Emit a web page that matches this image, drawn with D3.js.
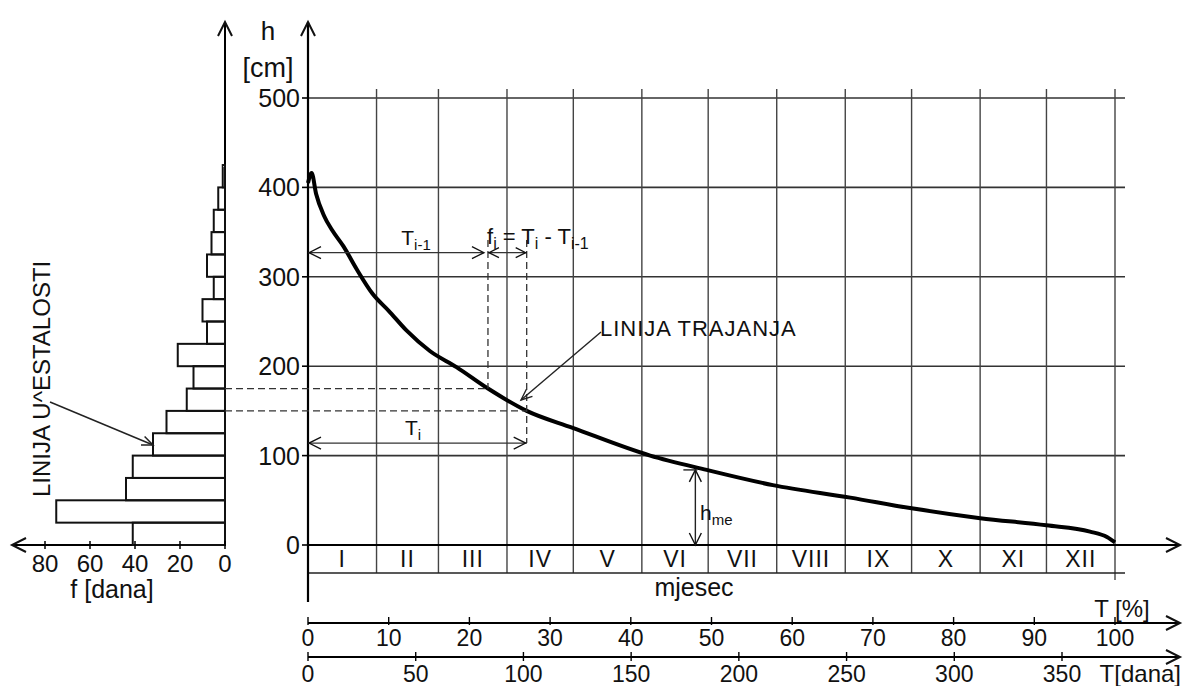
<!DOCTYPE html>
<html><head><meta charset="utf-8">
<script src="https://cdn.jsdelivr.net/npm/d3@7"></script>
<style>
body{margin:0;background:#fff}
svg{display:block}
text{font-family:"Liberation Sans",Arial,Helvetica,sans-serif;fill:#111}
</style>
</head><body>
<svg id="c" width="1185" height="686"></svg>
<script>
// ---- data ----
const durationT = [0, 0.45, 1.0, 2.0, 3.0, 4.4, 6.0, 8.0, 10.0, 12.2, 15.1, 18.4, 22.3, 27.1, 32.8, 42.4, 49.4, 57.6, 67.2, 74.8, 83.3, 91.5, 96.9, 99.0, 100];
const durationH = [405, 416, 393, 368, 352, 334, 309, 281, 262, 240, 217, 199, 175, 150, 131, 100, 84, 67, 53, 41, 30, 22, 15, 9, 3];
const histLow = [0, 25, 50, 75, 100, 125, 150, 175, 200, 225, 250, 275, 300, 325, 350, 375, 400];
const histF   = [41, 75, 44, 41, 32, 26, 17, 14, 21, 8, 10, 5, 8, 6, 5, 3, 1];
const histWidth = 25;
const hTicks = [0, 100, 200, 300, 400, 500];
const fTicks = [0, 20, 40, 60, 80];
const pctTicks = [0, 10, 20, 30, 40, 50, 60, 70, 80, 90, 100];
const dayTicks = [0, 50, 100, 150, 200, 250, 300, 350];
const months = ["I", "II", "III", "IV", "V", "VI", "VII", "VIII", "IX", "X", "XI", "XII"];
const monthDays = [31, 28, 31, 30, 31, 30, 31, 31, 30, 31, 30, 31];
// annotation values (chart units)
const tPrev = 22.3, tCur = 27.1, hPrev = 175, hCur = 150;
const hArrowPrev = 327, hArrowCur = 114;
const tMedian = 48, hMedian = 84;

// ---- scales ----
const x = d3.scaleLinear().domain([0, 100]).range([308, 1115]);
const y = d3.scaleLinear().domain([0, 500]).range([545, 98]);
const f = d3.scaleLinear().domain([0, 80]).range([225, 45]);
const xd = d3.scaleLinear().domain([0, 350]).range([308, 1062]);

const svg = d3.select("#c");
const g = svg.append("g");

function line(x1, y1, x2, y2, w, col, dash) {
  const l = g.append("line").attr("x1", x1).attr("y1", y1).attr("x2", x2).attr("y2", y2)
    .attr("stroke", col || "#111").attr("stroke-width", w || 1.5);
  if (dash) l.attr("stroke-dasharray", dash);
  return l;
}
function head(px, py, dir, s, w) {
  s = s || 9; const h = s * 0.5;
  let p;
  if (dir === 'r') p = [[px - s, py - h], [px, py], [px - s, py + h]];
  if (dir === 'l') p = [[px + s, py - h], [px, py], [px + s, py + h]];
  if (dir === 'u') p = [[px - h, py + s], [px, py], [px + h, py + s]];
  if (dir === 'd') p = [[px - h, py - s], [px, py], [px + h, py - s]];
  g.append("path").attr("d", d3.line()(p)).attr("fill", "none").attr("stroke", "#111").attr("stroke-width", w || 1.5);
}
function slantHead(x1, y1, x2, y2, col, w) {
  const ang = Math.atan2(y2 - y1, x2 - x1), s = 12, a = 0.4;
  const p = [[x2 - s * Math.cos(ang - a), y2 - s * Math.sin(ang - a)], [x2, y2], [x2 - s * Math.cos(ang + a), y2 - s * Math.sin(ang + a)]];
  g.append("path").attr("d", d3.line()(p)).attr("fill", "none").attr("stroke", col).attr("stroke-width", w);
}
function txt(s, px, py, size, anchor) {
  return g.append("text").attr("x", px).attr("y", py).attr("font-size", size).attr("text-anchor", anchor || "middle").text(s);
}

// ---- month boundaries ----
const cum = d3.cumsum(monthDays);
const total = cum[cum.length - 1];
const bounds = [0, ...Array.from(cum, d => d / total * 100)];

// grid: horizontal
hTicks.filter(d => d > 0).forEach(d => line(x(0), y(d), 1125, y(d), 1.6, "#333"));
// grid: vertical (month boundaries), down through month row
bounds.slice(1).forEach((b, i) => line(x(b), 89, x(b), i === 11 ? 580 : 573, 1.4, "#444"));
// month row bottom
line(x(0), 573, 1125, 573, 1.6, "#222");
// month labels
months.forEach((m, i) => txt(m, (x(bounds[i]) + x(bounds[i + 1])) / 2, 567, 23).attr("letter-spacing", 1));
txt("mjesec", 694, 596, 25);

// ---- main axes ----
line(x(0), 602, x(0), 22, 2.2, "#000");
head(x(0), 22, 'u', 14, 2);
line(x(0), y(0), 1180, y(0), 2, "#000");
head(1180, y(0), 'r', 14, 2);
hTicks.forEach(d => {
  line(x(0) - 6, y(d), x(0), y(d), 1.6, "#000");
  txt(String(d), 300, y(d) + 9, 25, "end");
});
txt("h", 268, 40, 26);
txt("[cm]", 268, 77, 27);

// ---- duration curve ----
const pts = durationT.map((t, i) => [x(t), y(durationH[i])]);
g.append("path").attr("d", d3.line().curve(d3.curveMonotoneX)(pts))
  .attr("fill", "none").attr("stroke", "#000").attr("stroke-width", 4).attr("stroke-linejoin", "round");

// ---- histogram ----
line(f(0), y(0), f(0), 22, 2, "#000");
head(f(0), 22, 'u', 14, 2);
line(f(0), y(0), 12, y(0), 2, "#000");
head(12, y(0), 'l', 14, 2);
histLow.forEach((lo, i) => {
  g.append("rect").attr("x", f(histF[i])).attr("y", y(lo + histWidth))
    .attr("width", f(0) - f(histF[i])).attr("height", y(lo) - y(lo + histWidth))
    .attr("fill", "none").attr("stroke", "#111").attr("stroke-width", 2);
});
fTicks.forEach(d => {
  line(f(d), y(0) - 4, f(d), y(0) + 4, 1.5, "#000");
  txt(String(d), f(d), 572, 24);
});
txt("f [dana]", 112, 598, 25);
g.append("text").attr("transform", "translate(50,497) rotate(-90)").attr("font-size", 24)
  .attr("text-anchor", "start").text("LINIJA U^ESTALOSTI");
line(50, 402, 153, 445, 1.5, "#222");
slantHead(50, 402, 153, 445, "#222", 1.5);

// ---- annotations ----
const yAP = y(hArrowPrev), yAC = y(hArrowCur);
line(f(0), y(hPrev), x(tPrev), y(hPrev), 1.3, "#333", "7,4");
line(f(0), y(hCur), x(tCur), y(hCur), 1.3, "#333", "7,4");
line(x(tPrev), 240, x(tPrev), y(hPrev), 1.3, "#333", "7,4");
line(x(tCur), 240, x(tCur), yAC, 1.3, "#333", "7,4");
// T_{i-1}
line(x(0), yAP, x(tPrev) - 4, yAP, 1.3, "#333");
head(x(0) + 1, yAP, 'l', 12, 1.3);
head(x(tPrev) - 4, yAP, 'r', 12, 1.3);
const t1 = txt("", 416, yAP - 8, 21);
t1.append("tspan").text("T");
t1.append("tspan").attr("font-size", 15).attr("dy", 5).text("i-1");
// f_i arrows
line(x(tPrev), yAP, x(tCur), yAP, 1.3, "#333");
head(x(tPrev) + 1, yAP, 'l', 10, 1.3);
head(x(tCur) - 1, yAP, 'r', 10, 1.3);
const t2 = txt("", 487, yAP - 9, 22, "start");
t2.append("tspan").text("f");
t2.append("tspan").attr("font-size", 16).attr("dy", 5).text("i");
t2.append("tspan").attr("dy", -5).text(" = T");
t2.append("tspan").attr("font-size", 16).attr("dy", 5).text("i");
t2.append("tspan").attr("dy", -5).text("  - T");
t2.append("tspan").attr("font-size", 16).attr("dy", 5).text("i-1");
// T_i
line(x(0), yAC, x(tCur), yAC, 1.3, "#333");
head(x(0) + 1, yAC, 'l', 12, 1.3);
head(x(tCur) - 1, yAC, 'r', 12, 1.3);
const t3 = txt("", 413, yAC - 8, 21);
t3.append("tspan").text("T");
t3.append("tspan").attr("font-size", 15).attr("dy", 5).text("i");
// LINIJA TRAJANJA
txt("LINIJA TRAJANJA", 600, 336, 22, "start").attr("letter-spacing", 1);
line(601, 332, 521, 400, 1.4, "#222");
slantHead(601, 332, 521, 400, "#222", 1.4);
// h_me
const xm = x(tMedian);
line(xm, y(hMedian), xm, y(0), 1.4, "#222");
head(xm, y(hMedian), 'u', 12, 1.4);
head(xm, y(0), 'd', 12, 1.4);
line(xm - 12, y(hMedian), xm + 2, y(hMedian), 1.4, "#222");
const t4 = txt("", 700, 520, 21, "start");
t4.append("tspan").text("h");
t4.append("tspan").attr("font-size", 15).attr("dy", 5).text("me");

// ---- bottom axes ----
const yP = 623, yD = 657;
line(x(0), yP, 1180, yP, 1.8, "#000");
head(1180, yP, 'r', 14, 2);
pctTicks.forEach(d => {
  line(x(d), yP - 6, x(d), yP + 2, 1.4, "#000");
  txt(String(d), x(d), 646, 23);
});
txt("T [%]", 1122, 617, 24);
line(xd(0), yD, 1180, yD, 1.8, "#000");
head(1180, yD, 'r', 14, 2);
dayTicks.forEach(d => {
  line(xd(d), yD - 5, xd(d), yD + 4, 1.4, "#000");
  txt(String(d), xd(d), 682, 23);
});
txt("T[dana]", 1181, 682, 24, "end");
</script>
</body></html>
